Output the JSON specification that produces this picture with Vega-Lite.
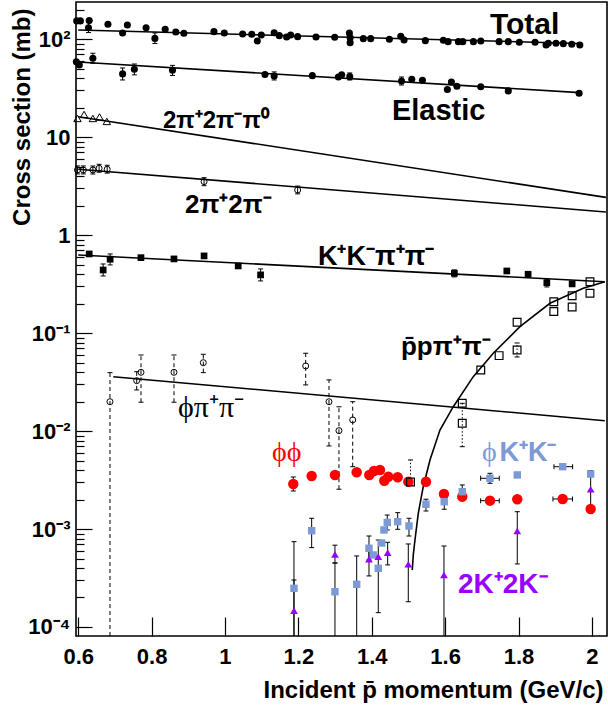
{
"$schema": "https://vega.github.io/schema/vega-lite/v6.json",
"width": 531, "height": 634,
"autosize": {"type": "none"},
"padding": {"left": 76, "top": 2, "right": 1, "bottom": 73},
"background": "white",
"config": {
  "view": {"stroke": "#000", "strokeWidth": 1.6},
  "axis": {"grid": false, "domain": false, "labelFont": "Liberation Sans", "labelFontWeight": "bold", "labelColor": "#000", "tickColor": "#000", "titleFont": "Liberation Sans", "titleFontWeight": "bold", "titleColor": "#000", "labelOverlap": false, "labelFlush": false, "labelBound": false}
},
"datasets": {
"pts": [
{"s":"tot","x":0.596,"y":154},{"s":"tot","x":0.606,"y":154},{"s":"tot","x":0.63,"y":155},{"s":"tot","x":0.628,"y":131,"lo":117,"hi":148},{"s":"tot","x":0.681,"y":142},{"s":"tot","x":0.721,"y":116},{"s":"tot","x":0.734,"y":140},{"s":"tot","x":0.785,"y":131},{"s":"tot","x":0.809,"y":102,"lo":90.6,"hi":116},{"s":"tot","x":0.837,"y":126.5},{"s":"tot","x":0.866,"y":118.7},{"s":"tot","x":0.888,"y":115.1},{"s":"tot","x":0.97,"y":119.6},{"s":"tot","x":0.998,"y":115.9},{"s":"tot","x":1.048,"y":113.3},{"s":"tot","x":1.073,"y":112.5},{"s":"tot","x":1.088,"y":96.1},{"s":"tot","x":1.099,"y":110.6},{"s":"tot","x":1.134,"y":116.7},{"s":"tot","x":1.148,"y":108.8},{"s":"tot","x":1.168,"y":105.5},{"s":"tot","x":1.179,"y":110.6},{"s":"tot","x":1.198,"y":106.3},{"s":"tot","x":1.248,"y":105.5},{"s":"tot","x":1.299,"y":104.8},{"s":"tot","x":1.339,"y":115.9},{"s":"tot","x":1.341,"y":103.8},{"s":"tot","x":1.341,"y":92.3},{"s":"tot","x":1.377,"y":101.4},{"s":"tot","x":1.397,"y":101.4},{"s":"tot","x":1.448,"y":100},{"s":"tot","x":1.479,"y":107.3},{"s":"tot","x":1.488,"y":98.4},{"s":"tot","x":1.546,"y":96.8},{"s":"tot","x":1.595,"y":97.7},{"s":"tot","x":1.608,"y":94.5},{"s":"tot","x":1.636,"y":94.5},{"s":"tot","x":1.648,"y":94.5},{"s":"tot","x":1.677,"y":94.5},{"s":"tot","x":1.697,"y":96.1},{"s":"tot","x":1.747,"y":94.5},{"s":"tot","x":1.772,"y":94.5},{"s":"tot","x":1.802,"y":93.2},{"s":"tot","x":1.845,"y":93.2},{"s":"tot","x":1.875,"y":87.5},{"s":"tot","x":1.881,"y":91},{"s":"tot","x":1.902,"y":91},{"s":"tot","x":1.922,"y":90.2},{"s":"tot","x":1.945,"y":88.9},{"s":"tot","x":1.967,"y":87.5},
{"s":"el","x":0.595,"y":59},{"s":"el","x":0.603,"y":54.7},{"s":"el","x":0.64,"y":64,"lo":56.9,"hi":72},{"s":"el","x":0.721,"y":44.3,"lo":38.4,"hi":50.9},{"s":"el","x":0.753,"y":49.4,"lo":43.3,"hi":55.9},{"s":"el","x":0.857,"y":48.3,"lo":42.7,"hi":54.1},{"s":"el","x":1.109,"y":43.7},{"s":"el","x":1.134,"y":42.2,"lo":38.4,"hi":46.4},{"s":"el","x":1.238,"y":42.5},{"s":"el","x":1.309,"y":41.2},{"s":"el","x":1.318,"y":43.3},{"s":"el","x":1.34,"y":41.5,"lo":38.4,"hi":45.3},{"s":"el","x":1.481,"y":37.5,"lo":34.1,"hi":41.2},{"s":"el","x":1.509,"y":39.1},{"s":"el","x":1.538,"y":38.1},{"s":"el","x":1.606,"y":30.7},{"s":"el","x":1.617,"y":36.6},{"s":"el","x":1.632,"y":33.1},{"s":"el","x":1.697,"y":32.8},{"s":"el","x":1.772,"y":29.7},{"s":"el","x":1.965,"y":28.1},
{"s":"pi5","x":0.598,"y":15.54},{"s":"pi5","x":0.616,"y":17.06},{"s":"pi5","x":0.64,"y":15.54},{"s":"pi5","x":0.658,"y":16.09},{"s":"pi5","x":0.678,"y":14.49},
{"s":"pi4","x":0.598,"y":4.63,"lo":4.22,"hi":5.09},{"s":"pi4","x":0.614,"y":4.63,"lo":4.22,"hi":5.09},{"s":"pi4","x":0.64,"y":4.63,"lo":4.22,"hi":5.09},{"s":"pi4","x":0.657,"y":4.82,"lo":4.39,"hi":5.29},{"s":"pi4","x":0.679,"y":4.71,"lo":4.3,"hi":5.17},{"s":"pi4","x":0.943,"y":3.52,"lo":3.2,"hi":3.86},{"s":"pi4","x":1.198,"y":2.89,"lo":2.64,"hi":3.17},
{"s":"kk","x":0.63,"y":0.643},{"s":"kk","x":0.668,"y":0.441,"lo":0.383,"hi":0.508},{"s":"kk","x":0.687,"y":0.568,"lo":0.497,"hi":0.643},{"s":"kk","x":0.771,"y":0.589},{"s":"kk","x":0.861,"y":0.572},{"s":"kk","x":0.943,"y":0.614},{"s":"kk","x":1.036,"y":0.485},{"s":"kk","x":1.097,"y":0.393,"lo":0.341,"hi":0.452},{"s":"kk","x":1.625,"y":0.408,"lo":0.375,"hi":0.442},{"s":"kk","x":1.768,"y":0.431},{"s":"kk","x":1.826,"y":0.399},{"s":"kk","x":1.877,"y":0.327,"lo":0.296,"hi":0.357},{"s":"kk","x":1.946,"y":0.318},
{"s":"pppp","x":1.5055,"y":0.00302,"lo":0.0028,"hi":0.00507},{"s":"pppp","x":1.6466,"y":0.01923},{"s":"pppp","x":1.6466,"y":0.01202,"lo":0.00693,"hi":0.0192},{"s":"pppp","x":1.697,"y":0.0421},{"s":"pppp","x":1.747,"y":0.0589},{"s":"pppp","x":1.796,"y":0.129},{"s":"pppp","x":1.796,"y":0.0673,"lo":0.0571,"hi":0.0793},{"s":"pppp","x":1.896,"y":0.209},{"s":"pppp","x":1.896,"y":0.166},{"s":"pppp","x":1.946,"y":0.241},{"s":"pppp","x":1.946,"y":0.185},{"s":"pppp","x":1.9946,"y":0.335},{"s":"pppp","x":1.9946,"y":0.255},
{"s":"phipp","x":0.6866,"y":0.01995,"lo":0.0000809,"hi":0.0395},{"s":"phipp","x":0.7594,"y":0.0327,"lo":0.0263,"hi":0.0404},{"s":"phipp","x":0.7711,"y":0.0398,"lo":0.0197,"hi":0.0598},{"s":"phipp","x":0.861,"y":0.0398,"lo":0.0197,"hi":0.0598},{"s":"phipp","x":0.9409,"y":0.0499,"lo":0.0395,"hi":0.0608},{"s":"phipp","x":1.2199,"y":0.0462,"lo":0.0296,"hi":0.0623},{"s":"phipp","x":1.2834,"y":0.01995,"lo":0.00705,"hi":0.0333},{"s":"phipp","x":1.3106,"y":0.0101,"lo":0.00255,"hi":0.0177},{"s":"phipp","x":1.348,"y":0.013,"lo":0.00433,"hi":0.01995},
{"s":"phiphi","x":1.1861,"y":0.002884,"lo":0.002446,"hi":0.0034},{"s":"phiphi","x":1.2362,"y":0.003483},{"s":"phiphi","x":1.2997,"y":0.003566},{"s":"phiphi","x":1.3589,"y":0.003797},{"s":"phiphi","x":1.3932,"y":0.003566},{"s":"phiphi","x":1.406,"y":0.003914},{"s":"phiphi","x":1.4223,"y":0.004006},{"s":"phiphi","x":1.4341,"y":0.003115},{"s":"phiphi","x":1.445,"y":0.003423},{"s":"phiphi","x":1.4706,"y":0.003375},{"s":"phiphi","x":1.4995,"y":0.003043},{"s":"phiphi","x":1.5477,"y":0.003043},{"s":"phiphi","x":1.5967,"y":0.00228},{"s":"phiphi","x":1.6466,"y":0.00214},{"s":"phiphi","x":1.7221,"y":0.001948,"xl":1.6967,"xh":1.7474},{"s":"phiphi","x":1.7965,"y":0.002012},{"s":"phiphi","x":1.9202,"y":0.002027,"xl":1.8937,"xh":1.9469},{"s":"phiphi","x":1.9965,"y":0.001603},
{"s":"phikk","x":1.188,"y":0.000248,"lo":0.0000809,"hi":0.000743},{"s":"phikk","x":1.2362,"y":0.000962,"lo":0.000646,"hi":0.001288},{"s":"phikk","x":1.2997,"y":0.000229,"lo":0.0000809,"hi":0.00045},{"s":"phikk","x":1.3589,"y":0.000273,"lo":0.0000809,"hi":0.000531},{"s":"phikk","x":1.3924,"y":0.000636,"lo":0.000483,"hi":0.000849},{"s":"phikk","x":1.4041,"y":0.000543},{"s":"phikk","x":1.4177,"y":0.000397,"lo":0.00014,"hi":0.000773},{"s":"phikk","x":1.427,"y":0.00072},{"s":"phikk","x":1.4332,"y":0.000978},{"s":"phikk","x":1.4422,"y":0.001167,"lo":0.000978,"hi":0.00139},{"s":"phikk","x":1.4706,"y":0.001189,"lo":0.000994,"hi":0.001469},{"s":"phikk","x":1.5014,"y":0.001074,"lo":0.000849,"hi":0.001288},{"s":"phikk","x":1.5477,"y":0.001791,"lo":0.001528,"hi":0.002014},{"s":"phikk","x":1.5975,"y":0.001902,"lo":0.001592,"hi":0.002138},{"s":"phikk","x":1.6466,"y":0.002405,"lo":0.001948,"hi":0.002818},{"s":"phikk","x":1.7221,"y":0.003296,"lo":0.002931,"hi":0.003707,"xl":1.6967,"xh":1.7474},{"s":"phikk","x":1.7965,"y":0.003566},{"s":"phikk","x":1.9202,"y":0.00433,"xl":1.8965,"xh":1.9474},{"s":"phikk","x":1.9965,"y":0.003649,"lo":0.003423,"hi":0.003942},
{"s":"k4","x":1.188,"y":0.0001467,"lo":0.0000809,"hi":0.000302},{"s":"k4","x":1.2997,"y":0.000552,"lo":0.00045,"hi":0.000684},{"s":"k4","x":1.3924,"y":0.000494,"lo":0.000332,"hi":0.00064},{"s":"k4","x":1.4177,"y":0.000522},{"s":"k4","x":1.4433,"y":0.000573,"lo":0.00043,"hi":0.000732},{"s":"k4","x":1.4995,"y":0.000437,"lo":0.000181,"hi":0.000704},{"s":"k4","x":1.5967,"y":0.00034,"lo":0.0000809,"hi":0.000671},{"s":"k4","x":1.7965,"y":0.000955,"lo":0.00044,"hi":0.001503},{"s":"k4","x":1.9965,"y":0.002547,"lo":0.001603,"hi":0.003733}
],
"curves": [
{"s":"tot","x":0.6,"y":124.4},{"s":"tot","x":1.967,"y":90.6},
{"s":"el","x":0.6,"y":58.6},{"s":"el","x":1.967,"y":28.5},
{"s":"pi5","x":0.6,"y":16.2},{"s":"pi5","x":2.038,"y":2.43},
{"s":"pi4","x":0.6,"y":4.71},{"s":"pi4","x":2.038,"y":1.725},
{"s":"kk","x":0.6,"y":0.628},{"s":"kk","x":2.035,"y":0.335},
{"s":"phipp","x":0.6956,"y":0.0359},{"s":"phipp","x":2.035,"y":0.01276},
{"s":"pppp","x":1.5104,"y":0.000382},{"s":"pppp","x":1.5131,"y":0.000543},{"s":"pppp","x":1.5177,"y":0.000773},{"s":"pppp","x":1.5267,"y":0.001448},{"s":"pppp","x":1.5403,"y":0.002704},{"s":"pppp","x":1.5586,"y":0.00507},{"s":"pppp","x":1.5858,"y":0.01026},{"s":"pppp","x":1.6221,"y":0.01774},{"s":"pppp","x":1.6766,"y":0.03593},{"s":"pppp","x":1.7311,"y":0.06227},{"s":"pppp","x":1.8038,"y":0.1164},{"s":"pppp","x":1.8856,"y":0.2018},{"s":"pppp","x":1.9763,"y":0.2871},{"s":"pppp","x":2.0354,"y":0.335}
],
"labels": [
{"id":"tot","t":"Total","x":1.722,"y":112.5},
{"id":"el","t":"Elastic","x":1.455,"y":15.0},
{"id":"pi5","t":"2π⁺2π⁻π⁰","x":0.831,"y":12.43},
{"id":"pi4","t":"2π⁺2π⁻","x":0.891,"y":1.686},
{"id":"kk","t":"K⁺K⁻π⁺π⁻","x":1.2534,"y":0.4966},
{"id":"pp","t":"p̄pπ⁺π⁻","x":1.4796,"y":0.0598},
{"id":"phipp","t":"ϕπ⁺π⁻","x":0.872,"y":0.01403},
{"id":"phiphi","t":"ϕϕ","x":1.128,"y":0.004955},
{"id":"phik1","t":"ϕ","x":1.7003,"y":0.00499},
{"id":"phik2","t":"K⁺K⁻","x":1.748,"y":0.00499},
{"id":"k4","t":"2K⁺2K⁻","x":1.6349,"y":0.000222}
]
},
"layer": [
{"data": {"name": "curves"},
 "mark": {"type": "line", "color": "#000", "strokeWidth": 1.6, "clip": true},
 "encoding": {
  "x": {"field": "x", "type": "quantitative", "scale": {"domain": [0.594, 2.041], "nice": false, "zero": false},
    "axis": {"title": "Incident p̄ momentum (GeV/c)", "values": [0.6,0.65,0.7,0.75,0.8,0.85,0.9,0.95,1,1.05,1.1,1.15,1.2,1.25,1.3,1.35,1.4,1.45,1.5,1.55,1.6,1.65,1.7,1.75,1.8,1.85,1.9,1.95,2],
     "labelExpr": "abs(datum.value*5-round(datum.value*5))<0.001 ? format(datum.value,'~g') : ''",
     "tickSize": {"condition": {"test": "abs(datum.value*5-round(datum.value*5))<0.001", "value": -19}, "value": -10},
     "tickWidth": 1.2, "labelFontSize": 22, "labelPadding": 29, "titleFontSize": 24, "titleX": 527, "titleY": 61, "titleAlign": "right", "titleBaseline": "alphabetic"}},
  "y": {"field": "y", "type": "quantitative", "scale": {"type": "log", "domain": [0.0000809, 240], "nice": false},
    "axis": {"title": "Cross section (mb)", "values": [0.0001,0.0002,0.0003,0.0004,0.0005,0.0006,0.0007,0.0008,0.0009,0.001,0.002,0.003,0.004,0.005,0.006,0.007,0.008,0.009,0.01,0.02,0.03,0.04,0.05,0.06,0.07,0.08,0.09,0.1,0.2,0.3,0.4,0.5,0.6,0.7,0.8,0.9,1,2,3,4,5,6,7,8,9,10,20,30,40,50,60,70,80,90,100,200],
     "labelExpr": "datum.value==100?'10²':datum.value==10?'10':datum.value==1?'1':datum.value==0.1?'10⁻¹':datum.value==0.01?'10⁻²':datum.value==0.001?'10⁻³':datum.value==0.0001?'10⁻⁴':''",
     "tickSize": {"condition": {"test": "datum.value==100||datum.value==10||datum.value==1||datum.value==0.1||datum.value==0.01||datum.value==0.001||datum.value==0.0001", "value": -16}, "value": -8},
     "tickWidth": 1.2, "labelFontSize": 22, "labelPadding": 22, "titleFontSize": 24, "titleAngle": -90, "titleX": -46.5, "titleY": 6, "titleAlign": "right", "titleBaseline": "alphabetic"}},
  "detail": {"field": "s"}
 }},
{"data": {"name": "pts"}, "transform": [{"filter": "isValid(datum.lo) && datum.s!='phipp' && datum.s!='pppp'"}],
 "mark": {"type": "rule", "color": "#000", "strokeWidth": 1, "clip": true},
 "encoding": {"x": {"field": "x", "type": "quantitative"}, "y": {"field": "lo", "type": "quantitative"}, "y2": {"field": "hi"}}},
{"data": {"name": "pts"}, "transform": [{"filter": "datum.s=='phipp'"}],
 "mark": {"type": "rule", "color": "#000", "strokeWidth": 1, "strokeDash": [4, 3], "clip": true},
 "encoding": {"x": {"field": "x", "type": "quantitative"}, "y": {"field": "lo", "type": "quantitative"}, "y2": {"field": "hi"}}},
{"data": {"name": "pts"}, "transform": [{"filter": "datum.s=='pppp' && isValid(datum.lo)"}],
 "mark": {"type": "rule", "color": "#000", "strokeWidth": 1, "strokeDash": [1.5, 2], "clip": true},
 "encoding": {"x": {"field": "x", "type": "quantitative"}, "y": {"field": "lo", "type": "quantitative"}, "y2": {"field": "hi"}}},
{"data": {"name": "pts"}, "transform": [{"filter": "isValid(datum.xl)"}],
 "mark": {"type": "rule", "color": "#000", "strokeWidth": 1, "clip": true},
 "encoding": {"x": {"field": "xl", "type": "quantitative"}, "x2": {"field": "xh"}, "y": {"field": "y", "type": "quantitative"}}},
{"data": {"name": "pts"}, "transform": [{"filter": "isValid(datum.hi)"}],
 "mark": {"type": "tick", "orient": "horizontal", "size": 5, "thickness": 1, "color": "#000", "opacity": 1},
 "encoding": {"x": {"field": "x", "type": "quantitative"}, "y": {"field": "hi", "type": "quantitative"}}},
{"data": {"name": "pts"}, "transform": [{"filter": "isValid(datum.lo) && datum.lo>0.0001"}],
 "mark": {"type": "tick", "orient": "horizontal", "size": 5, "thickness": 1, "color": "#000", "opacity": 1},
 "encoding": {"x": {"field": "x", "type": "quantitative"}, "y": {"field": "lo", "type": "quantitative"}}},
{"data": {"name": "pts"}, "transform": [{"filter": "isValid(datum.xl)"}],
 "mark": {"type": "tick", "orient": "vertical", "size": 5, "thickness": 1, "color": "#000", "opacity": 1},
 "encoding": {"x": {"field": "xl", "type": "quantitative"}, "y": {"field": "y", "type": "quantitative"}}},
{"data": {"name": "pts"}, "transform": [{"filter": "isValid(datum.xl)"}],
 "mark": {"type": "tick", "orient": "vertical", "size": 5, "thickness": 1, "color": "#000", "opacity": 1},
 "encoding": {"x": {"field": "xh", "type": "quantitative"}, "y": {"field": "y", "type": "quantitative"}}},
{"data": {"name": "pts"}, "transform": [{"filter": "datum.s=='phiphi'"}],
 "mark": {"type": "point", "shape": "circle", "filled": true, "color": "#ff0000", "size": 110, "opacity": 1},
 "encoding": {"x": {"field": "x", "type": "quantitative"}, "y": {"field": "y", "type": "quantitative"}}},
{"data": {"name": "pts"}, "transform": [{"filter": "datum.s=='phikk'"}],
 "mark": {"type": "point", "shape": "square", "filled": true, "color": "#7b9ad6", "size": 55, "opacity": 1},
 "encoding": {"x": {"field": "x", "type": "quantitative"}, "y": {"field": "y", "type": "quantitative"}}},
{"data": {"name": "pts"}, "transform": [{"filter": "datum.s=='k4'"}],
 "mark": {"type": "point", "shape": "triangle-up", "filled": true, "color": "#9900ff", "size": 60, "opacity": 1},
 "encoding": {"x": {"field": "x", "type": "quantitative"}, "y": {"field": "y", "type": "quantitative"}}},
{"data": {"name": "pts"}, "transform": [{"filter": "datum.s=='pppp'"}],
 "mark": {"type": "point", "shape": "square", "filled": false, "stroke": "#000", "strokeWidth": 1.2, "size": 60, "opacity": 1},
 "encoding": {"x": {"field": "x", "type": "quantitative"}, "y": {"field": "y", "type": "quantitative"}}},
{"data": {"name": "pts"}, "transform": [{"filter": "datum.s=='tot' || datum.s=='el'"}],
 "mark": {"type": "point", "shape": "circle", "filled": true, "color": "#000", "size": 50, "opacity": 1},
 "encoding": {"x": {"field": "x", "type": "quantitative"}, "y": {"field": "y", "type": "quantitative"}}},
{"data": {"name": "pts"}, "transform": [{"filter": "datum.s=='kk'"}],
 "mark": {"type": "point", "shape": "square", "filled": true, "color": "#000", "size": 45, "opacity": 1},
 "encoding": {"x": {"field": "x", "type": "quantitative"}, "y": {"field": "y", "type": "quantitative"}}},
{"data": {"name": "pts"}, "transform": [{"filter": "datum.s=='pi5'"}],
 "mark": {"type": "point", "shape": "triangle-up", "filled": false, "stroke": "#000", "strokeWidth": 1, "size": 55, "opacity": 1},
 "encoding": {"x": {"field": "x", "type": "quantitative"}, "y": {"field": "y", "type": "quantitative"}}},
{"data": {"name": "pts"}, "transform": [{"filter": "datum.s=='pi4' || datum.s=='phipp'"}],
 "mark": {"type": "point", "shape": "circle", "filled": false, "stroke": "#000", "strokeWidth": 1, "size": 36, "opacity": 1},
 "encoding": {"x": {"field": "x", "type": "quantitative"}, "y": {"field": "y", "type": "quantitative"}}},
{"data": {"name": "labels"}, "transform": [{"filter": "datum.id=='tot'"}],
 "mark": {"type": "text", "font": "Liberation Sans", "fontWeight": "bold", "fontSize": 30, "align": "left", "baseline": "alphabetic", "color": "#000"},
 "encoding": {"x": {"field": "x", "type": "quantitative"}, "y": {"field": "y", "type": "quantitative"}, "text": {"field": "t"}}},
{"data": {"name": "labels"}, "transform": [{"filter": "datum.id=='kk'"}],
 "mark": {"type": "text", "font": "Liberation Sans", "fontWeight": "bold", "fontSize": 27, "align": "left", "baseline": "alphabetic", "color": "#000"},
 "encoding": {"x": {"field": "x", "type": "quantitative"}, "y": {"field": "y", "type": "quantitative"}, "text": {"field": "t"}}},
{"data": {"name": "labels"}, "transform": [{"filter": "datum.id=='el'"}],
 "mark": {"type": "text", "font": "Liberation Sans", "fontWeight": "bold", "fontSize": 29, "align": "left", "baseline": "alphabetic", "color": "#000"},
 "encoding": {"x": {"field": "x", "type": "quantitative"}, "y": {"field": "y", "type": "quantitative"}, "text": {"field": "t"}}},
{"data": {"name": "labels"}, "transform": [{"filter": "datum.id=='pi5'"}],
 "mark": {"type": "text", "font": "Liberation Sans", "fontWeight": "bold", "fontSize": 24, "align": "left", "baseline": "alphabetic", "color": "#000"},
 "encoding": {"x": {"field": "x", "type": "quantitative"}, "y": {"field": "y", "type": "quantitative"}, "text": {"field": "t"}}},
{"data": {"name": "labels"}, "transform": [{"filter": "datum.id=='pi4' || datum.id=='pp'"}],
 "mark": {"type": "text", "font": "Liberation Sans", "fontWeight": "bold", "fontSize": 26, "align": "left", "baseline": "alphabetic", "color": "#000"},
 "encoding": {"x": {"field": "x", "type": "quantitative"}, "y": {"field": "y", "type": "quantitative"}, "text": {"field": "t"}}},
{"data": {"name": "labels"}, "transform": [{"filter": "datum.id=='phipp'"}],
 "mark": {"type": "text", "font": "Liberation Serif", "fontSize": 30, "align": "left", "baseline": "alphabetic", "color": "#000"},
 "encoding": {"x": {"field": "x", "type": "quantitative"}, "y": {"field": "y", "type": "quantitative"}, "text": {"field": "t"}}},
{"data": {"name": "labels"}, "transform": [{"filter": "datum.id=='phiphi'"}],
 "mark": {"type": "text", "font": "Liberation Serif", "fontSize": 28, "align": "left", "baseline": "alphabetic", "color": "#ff0000"},
 "encoding": {"x": {"field": "x", "type": "quantitative"}, "y": {"field": "y", "type": "quantitative"}, "text": {"field": "t"}}},
{"data": {"name": "labels"}, "transform": [{"filter": "datum.id=='phik1'"}],
 "mark": {"type": "text", "font": "Liberation Serif", "fontSize": 28, "align": "left", "baseline": "alphabetic", "color": "#7b9ad6"},
 "encoding": {"x": {"field": "x", "type": "quantitative"}, "y": {"field": "y", "type": "quantitative"}, "text": {"field": "t"}}},
{"data": {"name": "labels"}, "transform": [{"filter": "datum.id=='phik2'"}],
 "mark": {"type": "text", "font": "Liberation Sans", "fontWeight": "bold", "fontSize": 27, "align": "left", "baseline": "alphabetic", "color": "#7b9ad6"},
 "encoding": {"x": {"field": "x", "type": "quantitative"}, "y": {"field": "y", "type": "quantitative"}, "text": {"field": "t"}}},
{"data": {"name": "labels"}, "transform": [{"filter": "datum.id=='k4'"}],
 "mark": {"type": "text", "font": "Liberation Sans", "fontWeight": "bold", "fontSize": 28, "align": "left", "baseline": "alphabetic", "color": "#9900ff"},
 "encoding": {"x": {"field": "x", "type": "quantitative"}, "y": {"field": "y", "type": "quantitative"}, "text": {"field": "t"}}}
]
}
